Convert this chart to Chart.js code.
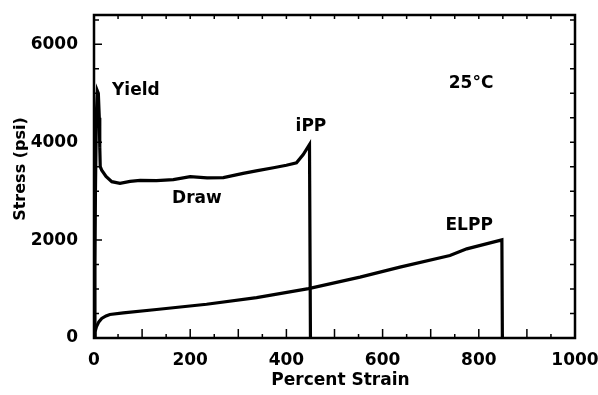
<!DOCTYPE html>
<html>
<head>
<meta charset="utf-8">
<script src="https://cdn.jsdelivr.net/npm/chart.js@4"></script>
<style>
  html, body { margin: 0; padding: 0; background: #fff; }
  canvas { display: block; }
</style>
</head>
<body>
<canvas id="strainChart" width="598" height="395"></canvas>
<script>
// iPP curve (yield peak, draw, break at ~450 %)
const ippStrain = [0, 2, 3, 5, 7, 9, 11, 12, 13, 16, 25, 37, 54, 75, 96, 130, 165, 200, 235, 269, 310, 340, 373, 400, 421, 435, 448, 450];
const ippStress = [0, 1500, 3000, 4600, 5050, 5000, 4500, 3900, 3500, 3430, 3300, 3194, 3162, 3200, 3222, 3215, 3235, 3296, 3270, 3276, 3365, 3420, 3479, 3530, 3580, 3750, 3954, 0];

// ELPP curve (break at ~850 %)
const elppStrain = [0, 2, 5, 10, 16, 25, 33, 61, 130, 234, 338, 446, 553, 636, 740, 775, 848, 849];
const elppStress = [0, 120, 230, 330, 400, 450, 480, 514, 583, 690, 826, 1009, 1245, 1448, 1685, 1821, 2004, 0];

// tick labels and tick marks
const xLabelValues = [0, 200, 400, 600, 800, 1000];
const yLabelValues = [0, 2000, 4000, 6000];
const xTickValues = [0, 50, 100, 150, 200, 250, 300, 350, 400, 450, 500, 550, 600, 650, 700, 750, 800, 850, 900, 950, 1000];
const yTickValues = [0, 500, 1000, 1500, 2000, 2500, 3000, 3500, 4000, 4500, 5000, 5500, 6000, 6500];

// text notes in the plot
const noteText = ['Yield', 'Draw', 'iPP', 'ELPP', '25°C'];
const noteStrain = [87, 214, 451, 780, 784];
const noteStress = [5056, 2853, 4325, 2294, 5198];

const FONT = '"DejaVu Sans", sans-serif';

const toPoints = (xs, ys) => xs.map((x, i) => ({ x: x, y: ys[i] }));

const framePlugin = {
    id: 'frame',
    afterDraw(chart) {
        const { ctx, chartArea: a, scales: { x, y } } = chart;
        ctx.save();
        ctx.strokeStyle = '#000';
        ctx.lineWidth = 1.5;
        ctx.beginPath();
        xTickValues.forEach(v => {
            const px = x.getPixelForValue(v);
            const len = v % 100 === 0 ? 9 : 4;
            ctx.moveTo(px, a.bottom);
            ctx.lineTo(px, a.bottom - len);
            ctx.moveTo(px, a.top);
            ctx.lineTo(px, a.top + 4);
        });
        yTickValues.forEach(v => {
            const py = y.getPixelForValue(v);
            const len = v % 2000 === 0 ? 8 : 5;
            ctx.moveTo(a.left, py);
            ctx.lineTo(a.left + len, py);
            ctx.moveTo(a.right, py);
            ctx.lineTo(a.right - 5, py);
        });
        ctx.stroke();

        ctx.lineWidth = 2.5;
        ctx.strokeRect(a.left, a.top, a.right - a.left, a.bottom - a.top);

        ctx.fillStyle = '#000';
        ctx.font = 'bold 17px ' + FONT;
        ctx.textAlign = 'center';
        ctx.textBaseline = 'middle';
        noteText.forEach((t, i) => {
            ctx.fillText(t, x.getPixelForValue(noteStrain[i]), y.getPixelForValue(noteStress[i]));
        });

        // axis titles
        ctx.fillText('Percent Strain', (a.left + a.right) / 2 + 6, 381);
        ctx.font = 'bold 16px ' + FONT;
        ctx.translate(21, 169);
        ctx.rotate(-Math.PI / 2);
        ctx.fillText('Stress (psi)', 0, 0);
        ctx.restore();
    }
};

const ctx1 = document.getElementById('strainChart').getContext('2d');
new Chart(ctx1, {
    type: 'line',
    data: {
        datasets: [{
            label: 'iPP',
            data: toPoints(ippStrain, ippStress),
            borderColor: '#000',
            borderWidth: 3.2,
            pointRadius: 0,
            tension: 0,
            fill: false
        }, {
            label: 'ELPP',
            data: toPoints(elppStrain, elppStress),
            borderColor: '#000',
            borderWidth: 3.2,
            pointRadius: 0,
            tension: 0,
            fill: false
        }]
    },
    options: {
        responsive: false,
        animation: false,
        layout: {
            padding: { left: 0, right: 23, top: 15, bottom: 0 }
        },
        scales: {
            x: {
                type: 'linear',
                min: 0,
                max: 1000,
                grid: { display: false },
                border: { display: false },
                afterBuildTicks(scale) { scale.ticks = xLabelValues.map(v => ({ value: v })); },
                ticks: {
                    padding: 4,
                    color: '#000',
                    font: { family: FONT, size: 17, weight: 'bold' },
                    maxRotation: 0,
                    autoSkip: false,
                    callback: v => String(v)
                },
                afterFit(scale) {
                    scale.height = 57;
                    scale.paddingLeft = 0;
                    scale.paddingRight = 0;
                }
            },
            y: {
                type: 'linear',
                min: 0,
                max: 6600,
                grid: { display: false },
                border: { display: false },
                afterBuildTicks(scale) { scale.ticks = yLabelValues.map(v => ({ value: v })); },
                ticks: {
                    padding: 8,
                    color: '#000',
                    font: { family: FONT, size: 17, weight: 'bold' },
                    autoSkip: false,
                    callback: v => String(v)
                },
                afterFit(scale) {
                    scale.width = 94;
                    scale.paddingTop = 0;
                    scale.paddingBottom = 0;
                }
            }
        },
        plugins: {
            legend: { display: false },
            tooltip: { enabled: false }
        }
    },
    plugins: [framePlugin]
});
</script>
</body>
</html>
